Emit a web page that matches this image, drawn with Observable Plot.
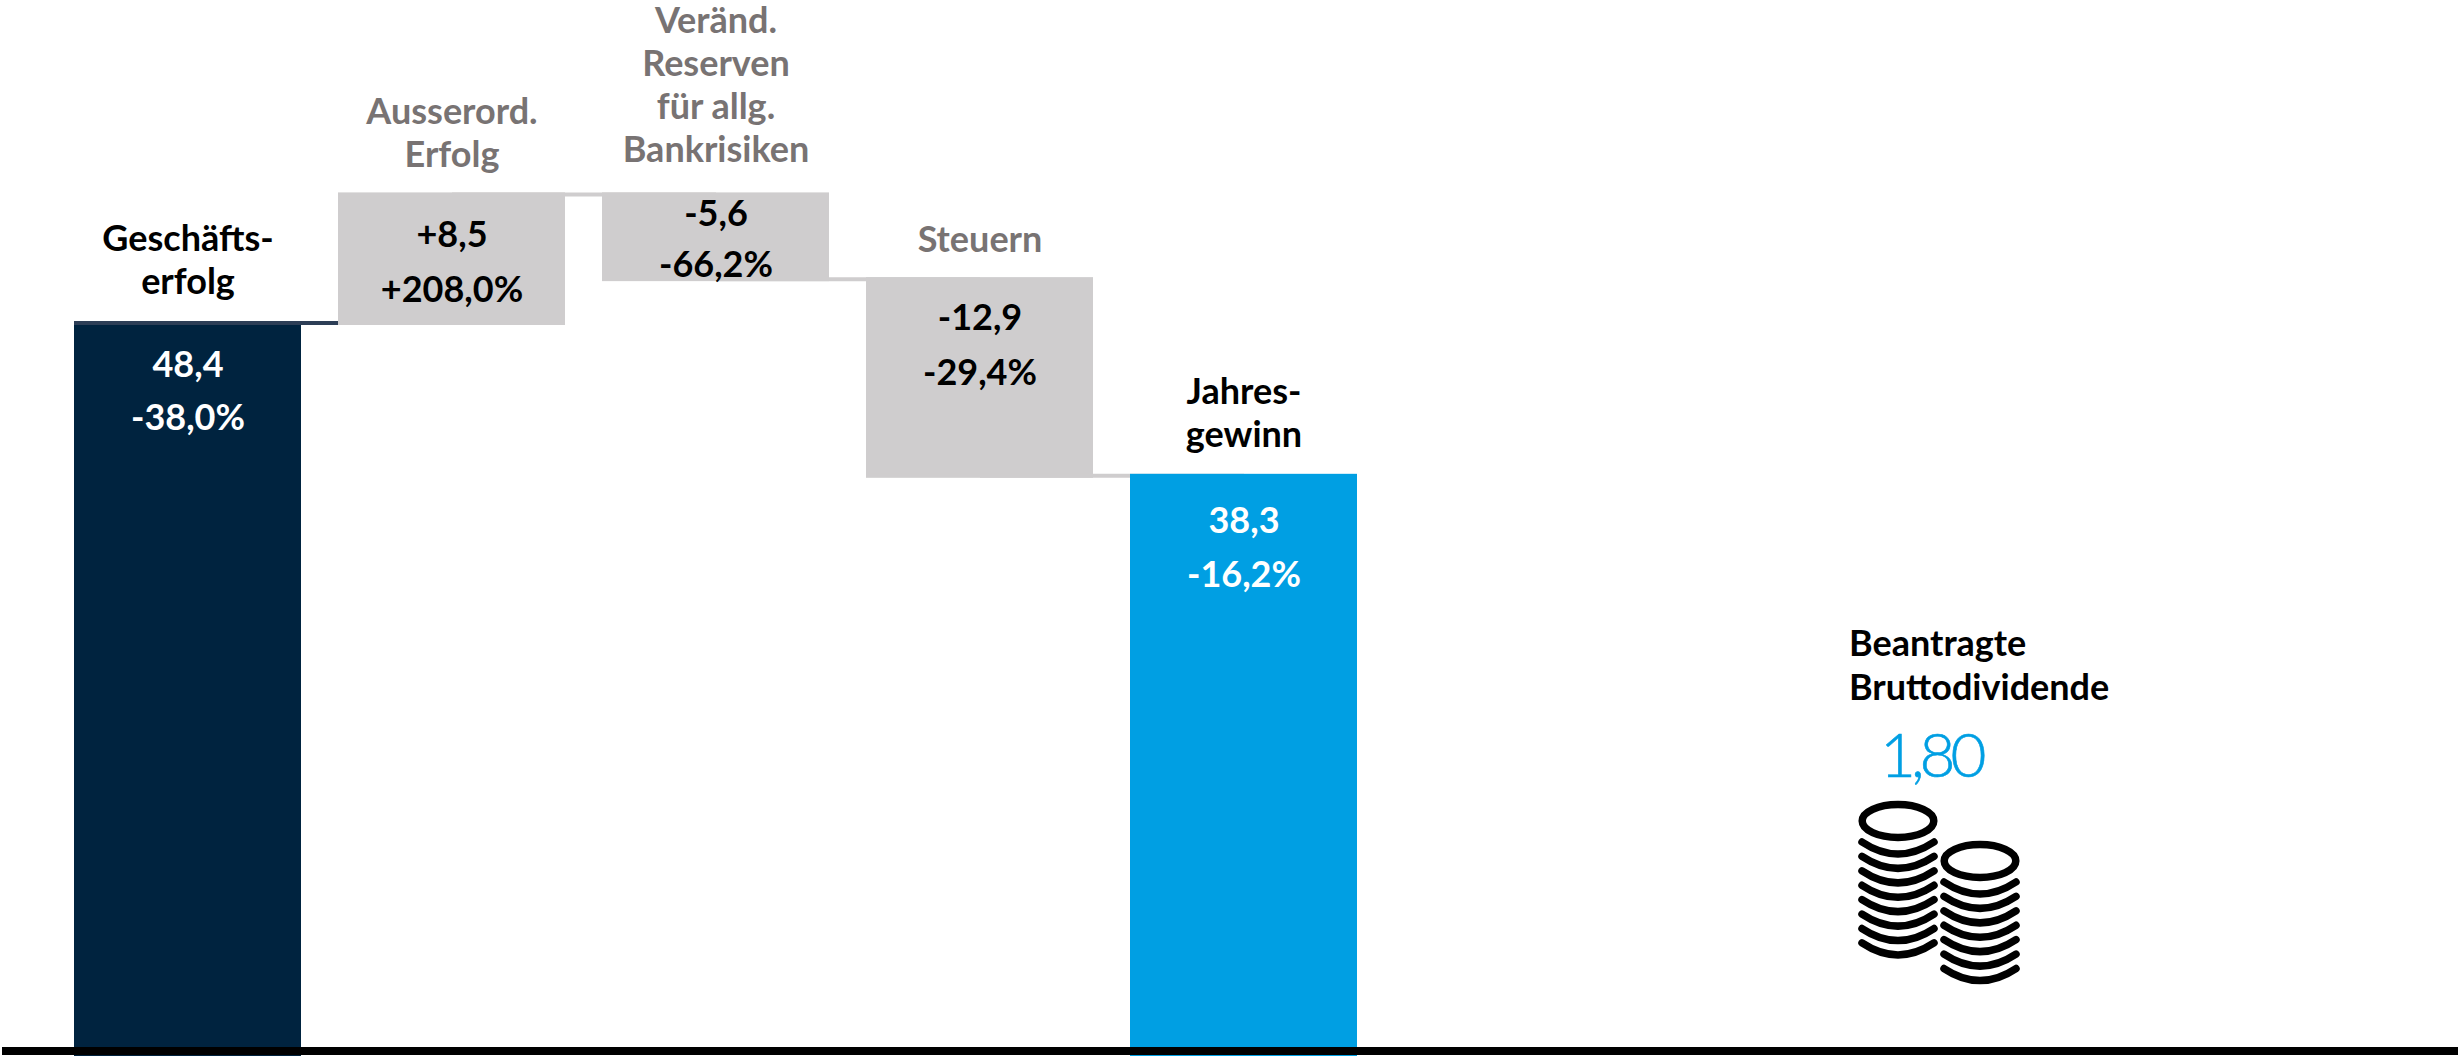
<!DOCTYPE html>
<html lang="de">
<head>
<meta charset="utf-8">
<style>html,body{margin:0;padding:0;background:#fff;overflow:hidden}svg{display:block}</style>
<script src="https://cdn.jsdelivr.net/npm/d3@7"></script>
<script src="https://cdn.jsdelivr.net/npm/@observablehq/plot@0.6"></script>
</head>
<body>
<script>
const categories = ["Geschäftserfolg", "Ausserord. Erfolg", "Veränd. Reserven", "Steuern", "Jahresgewinn"];
const kinds = ["start", "delta", "delta", "delta", "end"];
const lower = [0, 48.4, 51.3, 38.3, 0];
const upper = [48.4, 56.9, 56.9, 51.3, 38.3];
const valueLabels = ["48,4", "+8,5", "-5,6", "-12,9", "38,3"];
const changeLabels = ["-38,0%", "+208,0%", "-66,2%", "-29,4%", "-16,2%"];
const names = ["Geschäfts-\nerfolg", "Ausserord.\nErfolg", "Veränd.\nReserven\nfür allg.\nBankrisiken", "Steuern", "Jahres-\ngewinn"];
const connectorLevels = [48.4, 56.9, 51.3, 38.3];
const dividendTitle = "Beantragte\nBruttodividende";
const dividendValue = "1,80";

const FONT = "Lato, sans-serif";
const NAVY = "#00233f", NAVY_EDGE = "#2d3e56", GREY = "#cfcdce", BLUE = "#009fe3", LABEL = "#787373";
const colorOf = {start: NAVY, delta: GREY, end: BLUE};
const rows = categories.map((c, i) => ({c, kind: kinds[i], lo: lower[i], hi: upper[i], value: valueLabels[i], change: changeLabels[i], name: names[i], i}));
const links = connectorLevels.map((level, i) => ({from: categories[i], to: categories[i + 1], level, color: i === 0 ? NAVY_EDGE : GREY}));

// pixel offsets of the texts from the top of each bar
const nameDy = [-30, -28, -33, -28, -29];
const valueDy = [53, 52, 31, 50, 57];
const changeDy = [106, 107, 82, 105, 111];

const textMarks = rows.flatMap((r, i) => {
  const light = r.kind !== "delta";
  const base = {x: "c", y: "hi", textAnchor: "middle", fontFamily: FONT, fontWeight: 700, fontSize: 36, lineAnchor: "bottom"};
  return [
    Plot.text([r], {...base, text: "name", dy: nameDy[i], lineHeight: 1.19, fill: light ? "#000" : LABEL}),
    Plot.text([r], {...base, text: "value", dy: valueDy[i], fill: r.kind === "delta" ? "#000" : "#fff"}),
    Plot.text([r], {...base, text: "change", dy: changeDy[i], fill: r.kind === "delta" ? "#000" : "#fff"})
  ];
});

function coins() {
  const svg = d3.create("svg:g").attr("fill", "none").attr("stroke", "#000").attr("stroke-width", 7.5).attr("stroke-linecap", "round");
  const stack = (cx, cy, n) => {
    svg.append("ellipse").attr("cx", cx).attr("cy", cy).attr("rx", 35.8).attr("ry", 16.4);
    for (let k = 0; k < n; k++) {
      const y = cy + 21 + k * 14.42;
      svg.append("path").attr("d", `M${cx - 36} ${y} Q${cx} ${y + 24} ${cx + 36} ${y}`);
    }
  };
  stack(1898, 821, 8);
  stack(1980, 861, 7);
  return svg.node();
}

const chart = Plot.plot({
  width: 2458,
  height: 1056,
  marginLeft: 2,
  marginRight: 0,
  marginTop: 0,
  marginBottom: 0,
  style: {background: "#fff", overflow: "hidden"},
  x: {type: "band", axis: null, domain: categories, range: [75.8, 1356.2], paddingInner: 0.155, paddingOuter: 0, align: 0.5},
  y: {axis: null, domain: [0, 56.9], range: [1055.3, 194.4]},
  marks: [
    Plot.link(links, {x1: "from", x2: "to", y1: "level", y2: "level", stroke: "color", strokeWidth: 4, dy: -0.5}),
    Plot.barY(rows, {x: "c", y1: "lo", y2: "hi", fill: d => colorOf[d.kind], stroke: d => colorOf[d.kind], strokeWidth: 4}),
    Plot.tickY(rows.slice(0, 1), {x: "c", y: "hi", stroke: NAVY_EDGE, strokeWidth: 4, strokeLinecap: "square", dy: -0.5}),
    Plot.ruleY([0], {strokeWidth: 8, stroke: "#000", dy: -4.8}),
    ...textMarks,
    () => {
      const g = d3.create("svg:g").attr("font-family", FONT).attr("text-anchor", "start");
      const t = g.append("text").attr("font-size", 36).attr("font-weight", 700).attr("fill", "#000");
      dividendTitle.split("\n").forEach((line, k) => t.append("tspan").attr("x", 1849).attr("y", 656 + k * 44).text(line));
      g.append("text").attr("x", 1880).attr("y", 777).attr("font-size", 62).attr("font-weight", 300).attr("letter-spacing", -5).attr("fill", BLUE).attr("stroke", BLUE).attr("stroke-width", 0.6).text(dividendValue);
      return g.node();
    },
    coins
  ]
});
document.body.appendChild(chart);
</script>
</body>
</html>
